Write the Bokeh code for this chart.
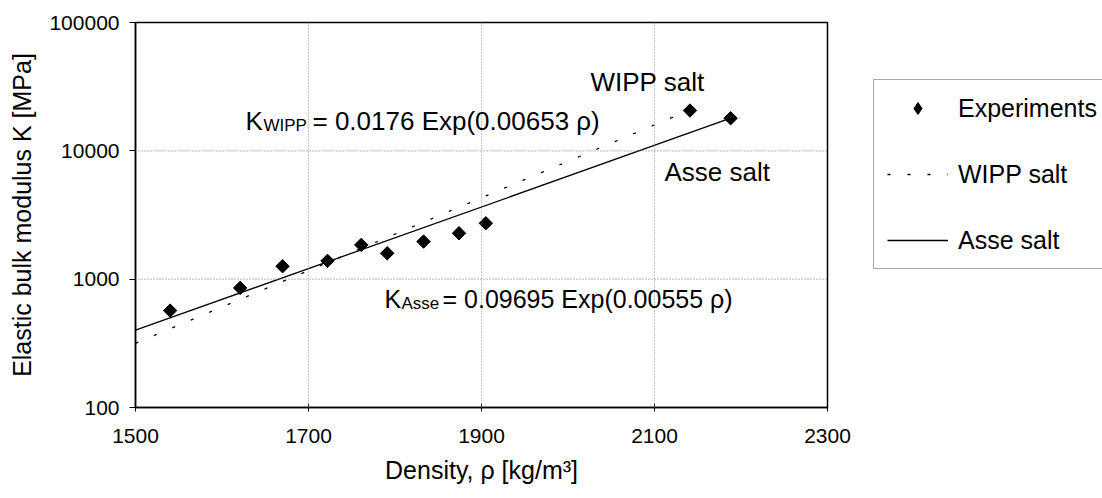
import math
from bokeh.plotting import figure
from bokeh.models import (FixedTicker, BasicTickFormatter, Label, Legend, LegendItem,
                          Span, ColumnDataSource)
from bokeh.embed import file_html
from bokeh.resources import INLINE

# ---- data ----
exp_density = [1540, 1621, 1670, 1722, 1761, 1791, 1833, 1874, 1905, 2141, 2188]
exp_modulus = [569, 855, 1261, 1389, 1850, 1592, 1963, 2279, 2727, 20600, 17950]

wipp_density = [1500, 2141]     # fitted line K = 0.0176 Exp(0.00653 rho)
wipp_modulus = [316, 20800]
asse_density = [1500, 2188]     # fitted line K = 0.09695 Exp(0.00555 rho)
asse_modulus = [400, 17950]

x_ticks = [1500, 1700, 1900, 2100, 2300]
y_ticks = [100, 1000, 10000, 100000]
x_grid = [1700, 1900, 2100]
y_grid = [1000, 10000]

FONT = "Liberation Sans"
W, H = 1102, 498
FL, FR, FT, FB = 135, 827, 22, 407   # frame edges in pixels

p = figure(width=W, height=H, y_axis_type="log",
           x_range=(1500, 2300), y_range=(100, 100000),
           output_backend="svg", toolbar_location=None,
           min_border_left=FL, min_border_right=W - FR,
           min_border_top=FT, min_border_bottom=H - FB)
p.frame_width = FR - FL
p.frame_height = FB - FT
p.background_fill_color = "white"
p.border_fill_color = "white"
p.outline_line_color = "black"
p.outline_line_width = 1.5
p.xgrid.visible = False
p.ygrid.visible = False

for xv in x_grid:
    p.add_layout(Span(location=xv, dimension="height", line_color="#8a8a8a",
                      line_dash="1 2", line_width=1))
for yv in y_grid:
    p.add_layout(Span(location=yv, dimension="width", line_color="#8a8a8a",
                      line_dash="1 2", line_width=1.2))

# axes
p.xaxis.ticker = FixedTicker(ticks=x_ticks)
p.yaxis.ticker = FixedTicker(ticks=y_ticks)
p.yaxis.formatter = BasicTickFormatter(use_scientific=False)
for ax in (p.xaxis[0], p.yaxis[0]):
    ax.axis_line_color = "black"
    ax.axis_line_width = 1.5
    ax.major_tick_line_color = "black"
    ax.minor_tick_line_color = None
    ax.major_label_text_font = FONT
    ax.major_label_text_font_size = "21px"
    ax.major_label_text_color = "black"
    ax.axis_label_text_font = FONT
    ax.axis_label_text_font_size = "25px"
    ax.axis_label_text_font_style = "normal"
    ax.axis_label_text_color = "black"
p.xaxis.major_tick_in = 4
p.xaxis.major_tick_out = 4
p.xaxis.major_label_standoff = 17
p.xaxis.axis_label_standoff = 10
p.yaxis.major_tick_in = 0
p.yaxis.major_tick_out = 6
p.yaxis.major_label_standoff = 10
p.yaxis.axis_label_standoff = 10
p.xaxis.axis_label = "Density, ρ [kg/m³]"
p.yaxis.axis_label = "Elastic bulk modulus K [MPa]"

# lines
wipp = p.line(wipp_density, wipp_modulus, line_color="black", line_width=1.3,
              line_dash="3 17")
asse = p.line(asse_density, asse_modulus, line_color="black", line_width=1.3)

# experiments (diamonds)
src = ColumnDataSource(dict(x=exp_density, y=exp_modulus))
# diamond renderer used for the legend symbol (sits under the drawn markers)
leg_marker = p.scatter("x", "y", source=src, marker="diamond", size=9,
                       fill_color="black", line_color="black")
p.scatter("x", "y", source=src, marker="square", angle=math.pi / 4, size=9.5,
          fill_color="black", line_color="black")

legend = Legend(items=[LegendItem(label="Experiments", renderers=[leg_marker]),
                       LegendItem(label="WIPP salt", renderers=[wipp]),
                       LegendItem(label="Asse salt", renderers=[asse])],
                location=(873 - FR, FB - 269),
                glyph_width=61, glyph_height=30, label_height=30,
                label_standoff=10, spacing=36, padding=13, margin=0,
                label_text_font=FONT, label_text_font_size="25px",
                label_text_color="black",
                border_line_color="#555555", border_line_width=1,
                background_fill_color="white")
p.add_layout(legend, "right")


def lab(text, px, py, size="26px"):
    p.add_layout(Label(x=px - FL, y=FB - py, x_units="screen", y_units="screen",
                       text=text, text_font=FONT, text_font_size=size,
                       text_color="black", text_baseline="alphabetic",
                       text_align="left"))


lab("WIPP salt", 590, 81)
lab("Asse salt", 664, 171)
lab("K", 245, 120)
lab("WIPP", 263, 125, "17px")
lab("= 0.0176 Exp(0.00653 ρ)", 312, 120)
lab("K", 384, 298, "25px")
lab("Asse", 401, 303, "17px")
lab("= 0.09695 Exp(0.00555 ρ)", 442, 298, "25px")

open("out.html", "w").write(file_html(p, INLINE))
